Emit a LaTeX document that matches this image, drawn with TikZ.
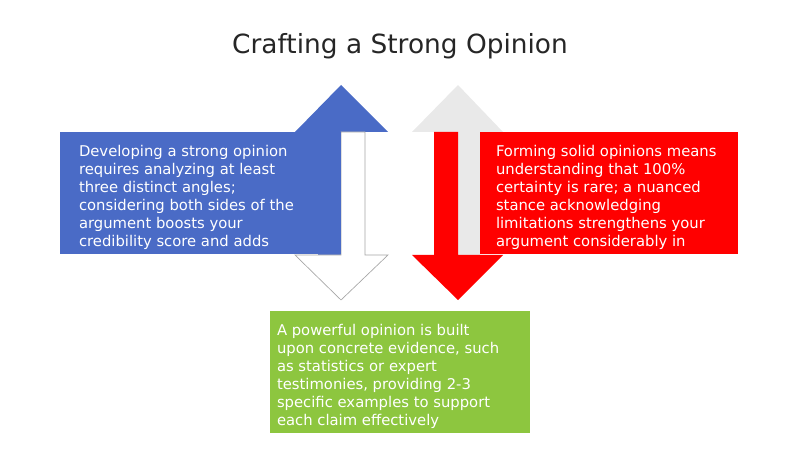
\documentclass[tikz,border=0pt]{standalone}
\usepackage{fontspec}
\setmainfont{DejaVu Sans}
\usetikzlibrary{positioning}

\definecolor{opblue}{HTML}{4A6BC6}
\definecolor{opred}{HTML}{FF0000}
\definecolor{opgray}{HTML}{E9E9E9}
\definecolor{opgreen}{HTML}{8DC63F}

\begin{document}
\begin{tikzpicture}[x=0.75pt, y=-0.75pt,
	every node/.style={inner sep=0pt, outer sep=0pt},
	box/.style={anchor=north west, minimum height=91.5pt},
	txt/.style={anchor=north west, text=white, align=left, font=\fontsize{11.1}{13.5}\selectfont}]
	\useasboundingbox (0,0) rectangle (800,449);

	\node[font=\fontsize{19.8}{22}\selectfont, text=black!85] (title) at (400,46) {Crafting a Strong Opinion};

	% left pair
	\fill[opblue] (295,132) -- (341,85) -- (388,132) -- (341,132) -- (341,255) -- (318,255) -- (318,132) -- cycle;
	\filldraw[fill=white, draw=gray!70, line width=0.5pt] (341,132) -- (365,132) -- (365,255) -- (388,255) -- (341,300) -- (295,255) -- (341,255) -- cycle;
	% right pair
	\fill[opgray] (412,132) -- (458,85) -- (503,132) -- (480,132) -- (480,255) -- (458,255) -- (458,132) -- cycle;
	\fill[opred] (434,132) -- (458,132) -- (458,255) -- (503,255) -- (458,300) -- (412,255) -- (434,255) -- cycle;

	\node[box, fill=opblue, minimum width=210.75pt] (bluebox) at (60,132) {};
	\node[box, fill=opred, minimum width=193.5pt] (redbox) at (480,132) {};
	\node[box, fill=opgreen, minimum width=195pt] (greenbox) at (270,311) {};

	\node[txt] (bluetext) at ([xshift=14.25pt, yshift=-10pt]bluebox.north west)
		{Developing a strong opinion\\requires analyzing at least\\three distinct angles;\\considering both sides of the\\argument boosts your\\credibility score and adds};
	\node[txt] (redtext) at ([xshift=12pt, yshift=-10pt]redbox.north west)
		{Forming solid opinions means\\understanding that 100\%\\certainty is rare; a nuanced\\stance acknowledging\\limitations strengthens your\\argument considerably in};
	\node[txt] (greentext) at ([xshift=5.25pt, yshift=-10pt]greenbox.north west)
		{A powerful opinion is built\\upon concrete evidence, such\\as statistics or expert\\testimonies, providing 2-3\\specific examples to support\\each claim effectively};
\end{tikzpicture}
\end{document}
